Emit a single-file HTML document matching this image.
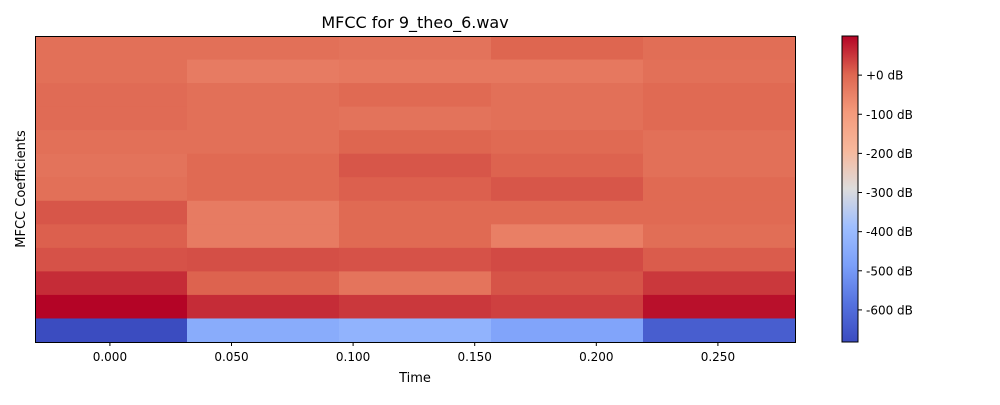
<!DOCTYPE html>
<html><head><meta charset="utf-8"><style>
body{margin:0;background:#fff;font-family:"Liberation Sans","DejaVu Sans",sans-serif;}
svg text{font-family:"DejaVu Sans","Liberation Sans",sans-serif;}
</style></head><body>
<svg id="chart" width="1000" height="400" xmlns="http://www.w3.org/2000/svg">
<defs><linearGradient id="cw" x1="0" y1="1" x2="0" y2="0">
<stop offset="0" stop-color="#3b4cc0"/><stop offset="0.125" stop-color="#5572df"/><stop offset="0.25" stop-color="#7b9ff9"/><stop offset="0.375" stop-color="#9ebeff"/><stop offset="0.5" stop-color="#dddcdc"/><stop offset="0.625" stop-color="#f7b89c"/><stop offset="0.75" stop-color="#f49a7b"/><stop offset="0.875" stop-color="#de6650"/><stop offset="1" stop-color="#b40426"/>
</linearGradient></defs>
<text x="415" y="28" font-size="16" text-anchor="middle">MFCC for 9_theo_6.wav</text>
<g id="cells"></g>
<rect x="35.5" y="36.5" width="760" height="306" fill="none" stroke="#000" stroke-width="1"/>
<g id="xticks"></g>
<text x="415" y="382" font-size="13" text-anchor="middle">Time</text>
<text x="0" y="0" font-size="13" text-anchor="middle" transform="translate(25,189) rotate(-90)">MFCC Coefficients</text>
<rect x="842" y="36" width="16" height="306" fill="url(#cw)" stroke="#000" stroke-width="1"/>
<g id="cticks"></g>
</svg>
<script>
const times=[0.000,0.050,0.100,0.150,0.200,0.250];
const xTickLabels=["0.000","0.050","0.100","0.150","0.200","0.250"];
const cbTicks=[0,-100,-200,-300,-400,-500,-600];
const cbLabels=["+0 dB","-100 dB","-200 dB","-300 dB","-400 dB","-500 dB","-600 dB"];
const frames=[0,1,2,3,4];
// rows top (coef 12) to bottom (coef 0)
const row12=[-17,-17,-22,2,-12];
const row11=[-17,-38,-32,-32,-17];
const row10=[-8,-17,-5,-17,-5];
const row9=[-8,-17,-22,-17,-5];
const row8=[-17,-17,2,-5,-17];
const row7=[-22,-5,18,5,-17];
const row6=[-17,-5,8,18,-5];
const row5=[18,-38,-5,-5,-5];
const row4=[8,-38,-5,-45,-12];
const row3=[22,25,22,30,12];
const row2=[60,5,-25,20,48];
const row1=[100,60,48,40,88];
const row0=[-682,-447,-424,-471,-635];
const rows=[row12,row11,row10,row9,row8,row7,row6,row5,row4,row3,row2,row1,row0];
const vmin=-682,vmax=100;
const X0=35,X1=795,Y0=36,Y1=342;
const tMin=-0.0308,tMax=0.2817;
const xs=t=>X0+(t-tMin)/(tMax-tMin)*(X1-X0);
const cy=v=>Y1-(v-vmin)/(vmax-vmin)*(Y1-Y0);
const stops=[[0,[59,76,192]],[0.125,[85,114,223]],[0.25,[123,159,249]],[0.375,[158,190,255]],[0.5,[221,220,220]],[0.625,[247,184,156]],[0.75,[244,154,123]],[0.875,[222,102,80]],[1,[180,4,38]]];
function cmap(v){let t=Math.max(0,Math.min(1,(v-vmin)/(vmax-vmin)));
for(let i=1;i<stops.length;i++){if(t<=stops[i][0]){const a=stops[i-1],b=stops[i],f=(t-a[0])/(b[0]-a[0]);
return 'rgb('+a[1].map((c,k)=>Math.round(c+(b[1][k]-c)*f)).join(',')+')';}}return 'rgb(180,4,38)';}
const NS='http://www.w3.org/2000/svg';
function mk(tag,at,parent){const e=document.createElementNS(NS,tag);for(const k in at)e.setAttribute(k,at[k]);parent.appendChild(e);return e;}
const cells=document.getElementById('cells');
const cw=(X1-X0)/frames.length,ch=(Y1-Y0)/rows.length;
rows.forEach((r,ri)=>r.forEach((v,ci)=>{
const e=mk('rect',{x:X0+frames[ci]*cw,y:Y0+ri*ch,width:cw+0.5,height:ch+0.5,fill:cmap(v)},cells);


}));
const xt=document.getElementById('xticks');
times.forEach((t,i)=>{const x=xs(t);
const l=mk('line',{x1:x,x2:x,y1:342,y2:346,stroke:'#000'},xt);


const tx=mk('text',{x:x,y:361,'font-size':12,'text-anchor':'middle'},xt);tx.textContent=xTickLabels[i];


});
const ct=document.getElementById('cticks');
cbTicks.forEach((v,i)=>{const y=cy(v);
const l=mk('line',{x1:858,x2:862,y1:y,y2:y,stroke:'#000'},ct);


const tx=mk('text',{x:866,y:y+4.5,'font-size':12},ct);tx.textContent=cbLabels[i];


});
</script>
</body></html>
